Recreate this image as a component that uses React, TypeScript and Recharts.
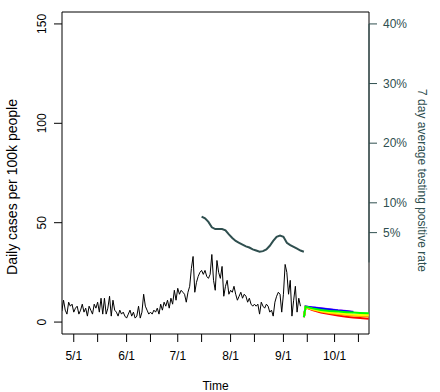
import React from 'react';
import { LineChart, Line, XAxis, YAxis, ReferenceLine } from 'recharts';

const FONT = '"Liberation Sans", Arial, Helvetica, sans-serif';
const SLATE = '#2F4F4F';

// x is counted in days from May 1 (0 = 5/1)
const monthTicks = [0, 31, 61, 92, 123, 153];
const monthLabels = ['5/1', '6/1', '7/1', '8/1', '9/1', '10/1'];
const midMonthTicks = [14, 45, 75, 106, 137, 167];

const caseTicks = [0, 50, 100, 150];
const rateTicks = [5, 10, 20, 30, 40];

// daily cases per 100k, one value per day starting 4/24
const caseStartDay = -7;
const dailyCases = [
  5.5, 11, 6, 4, 10, 8, 9, 5, 7, 8, 4, 6, 9, 5, 7, 3, 8, 6, 4, 9, 7, 10, 5, 12, 4,
  12, 4, 7, 13, 3, 11, 6, 5, 3, 6, 4, 5, 3, 2, 4, 6, 3, 5, 2, 3, 8, 2, 5, 14, 8,
  6, 4, 5, 4, 6, 5, 7, 4, 9, 6, 10, 8, 11, 7, 12, 9,
  16, 11, 17, 14, 16, 15, 14, 10, 15, 18, 27, 33, 15, 20, 23, 25, 26, 24, 26, 23,
  22, 24, 34, 21, 16, 31, 25, 22, 28, 13, 18, 21, 14, 16, 15, 18, 14, 11, 13, 15,
  12, 14, 13, 10, 12, 9, 8, 9, 8, 9, 4, 10, 8, 7, 9, 8, 5, 6, 3, 10,
  13, 15, 14, 5, 14, 29, 25, 14, 21, 3, 11, 18, 5, 12, 8,
];

// 7 day average positive rate (%)
const rateDays = [75, 77, 79, 81, 83, 85, 87, 89, 91, 93, 95, 97, 99, 101, 103, 105, 107, 109, 111, 113, 115, 117, 119, 121, 123, 125, 127, 129, 131, 133, 135];
const positiveRate = [7.7, 7.4, 6.8, 5.9, 5.6, 5.6, 5.6, 5.4, 4.7, 4.1, 3.6, 3.3, 3.0, 2.7, 2.5, 2.2, 2.0, 1.8, 1.9, 2.2, 2.8, 3.6, 4.3, 4.5, 4.3, 3.3, 2.9, 2.6, 2.3, 2.0, 1.8];

// projected cases
const projDays = [135, 136, 140, 145, 150, 155, 160, 164, 168, 173];
const projPurple = [2.5, 7.9, 7.4, 7.0, 6.5, 6.0, 5.6, 5.2];
const projBlue = [2.5, 7.8, 7.3, 6.8, 6.3, 5.8, 5.4, 5.0];
const projRed = [2.5, 7.4, 6.0, 4.8, 4.0, 3.3, 2.7, 2.3, 2.0, 1.7];
const projOrange = [2.5, 7.5, 6.3, 5.3, 4.6, 4.0, 3.5, 3.2, 3.0, 2.8];
const projYellow = [2.5, 7.6, 6.6, 5.6, 5.0, 4.5, 4.1, 3.8, 3.6, 3.5];
const projGreen = [2.5, 7.7, 6.9, 6.1, 5.6, 5.3, 5.0, 4.8, 4.6, 4.4];

const projSeries = [
  { key: 'purple', values: projPurple, color: '#A020F0' },
  { key: 'blue', values: projBlue, color: '#0000FF' },
  { key: 'red', values: projRed, color: '#FF0000' },
  { key: 'orange', values: projOrange, color: '#FFA500' },
  { key: 'yellow', values: projYellow, color: '#FFFF00' },
  { key: 'green', values: projGreen, color: '#00FF00' },
];

const X_MIN = -6.9;
const X_MAX = 173.2;

const caseTable = dailyCases.map((v, i) => ({ day: caseStartDay + i, cases: v }));
const rateTable = rateDays.map((d, i) => ({ day: d, rate: positiveRate[i] }));
const projTable = projDays.map((d, i) => {
  const row: Record<string, number | null> = { day: d };
  projSeries.forEach((s) => {
    row[s.key] = i < s.values.length ? s.values[i] : null;
  });
  return row;
});

const XTick = (props: any) => {
  const { x, y, payload } = props;
  const idx = monthTicks.indexOf(payload.value);
  if (idx < 0) return <g />;
  return (
    <text x={x} y={y + 16} textAnchor="middle" fontSize={12} fontFamily={FONT} fill="#000">
      {monthLabels[idx]}
    </text>
  );
};

const LeftTick = (props: any) => {
  const { x, y, payload } = props;
  const bx = x - 6;
  return (
    <text x={bx} y={y} transform={`rotate(-90 ${bx} ${y})`} textAnchor="middle" fontSize={12} fontFamily={FONT} fill="#000">
      {payload.value}
    </text>
  );
};

const App: React.FC = () => {
  return (
    <div style={{ position: 'absolute', left: 0, top: 0, width: 440, height: 392, background: '#fff' }}>
      <LineChart width={440} height={392} margin={{ top: 12, right: 0, bottom: 0, left: 0 }}>
        <XAxis
          dataKey="day"
          type="number"
          domain={[X_MIN, X_MAX]}
          allowDataOverflow
          ticks={[...monthTicks, ...midMonthTicks].sort((a, b) => a - b)}
          interval={0}
          height={58}
          tickSize={8}
          tickMargin={2}
          tick={XTick}
          stroke="#000"
          tickLine={{ stroke: '#000' }}
          label={() => (
            <text x={215.5} y={390} textAnchor="middle" fontSize={12} fontFamily={FONT} fill="#000">
              Time
            </text>
          )}
        />
        <YAxis
          yAxisId="left"
          type="number"
          domain={[-6, 156]}
          allowDataOverflow
          ticks={caseTicks}
          interval={0}
          width={62}
          tickSize={8}
          tickMargin={2}
          tick={LeftTick}
          stroke="#000"
          label={() => (
            <text x={17} y={187} transform="rotate(-90 17 187)" textAnchor="middle" fontSize={14} fontFamily={FONT} fill="#000">
              Daily cases per 100k people
            </text>
          )}
        />
        <YAxis
          yAxisId="right"
          orientation="right"
          type="number"
          domain={[-12, 42]}
          allowDataOverflow
          ticks={rateTicks}
          interval={0}
          width={71}
          tickSize={8}
          tickMargin={6}
          axisLine={false}
          tickLine={{ stroke: SLATE }}
          tickFormatter={(v: number) => `${v}%`}
          tick={{ fill: SLATE, fontSize: 12, fontFamily: FONT }}
          label={() => (
            <text x={417.5} y={180.5} transform="rotate(90 417.5 180.5)" textAnchor="middle" fontSize={12} fontFamily={FONT} fill={SLATE}>
              7 day average testing positive rate
            </text>
          )}
        />

        {/* box: top and right edges */}
        <ReferenceLine yAxisId="left" y={156} stroke="#000" ifOverflow="visible" />
        <ReferenceLine yAxisId="left" x={X_MAX} stroke="#000" ifOverflow="visible" />
        <ReferenceLine
          yAxisId="right"
          segment={[{ x: X_MAX, y: 0 }, { x: X_MAX, y: 40 }]}
          stroke={SLATE}
          ifOverflow="visible"
        />

        <Line
          yAxisId="right"
          data={rateTable}
          dataKey="rate"
          stroke={SLATE}
          strokeWidth={2}
          dot={false}
          isAnimationActive={false}
        />
        <Line
          yAxisId="left"
          data={caseTable}
          dataKey="cases"
          stroke="#000"
          strokeWidth={1}
          dot={false}
          isAnimationActive={false}
        />
        {projSeries.map((s) => (
          <Line
            key={s.key}
            yAxisId="left"
            data={projTable}
            dataKey={s.key}
            stroke={s.color}
            strokeWidth={2}
            dot={false}
            isAnimationActive={false}
          />
        ))}
      </LineChart>
    </div>
  );
};

export default App;
